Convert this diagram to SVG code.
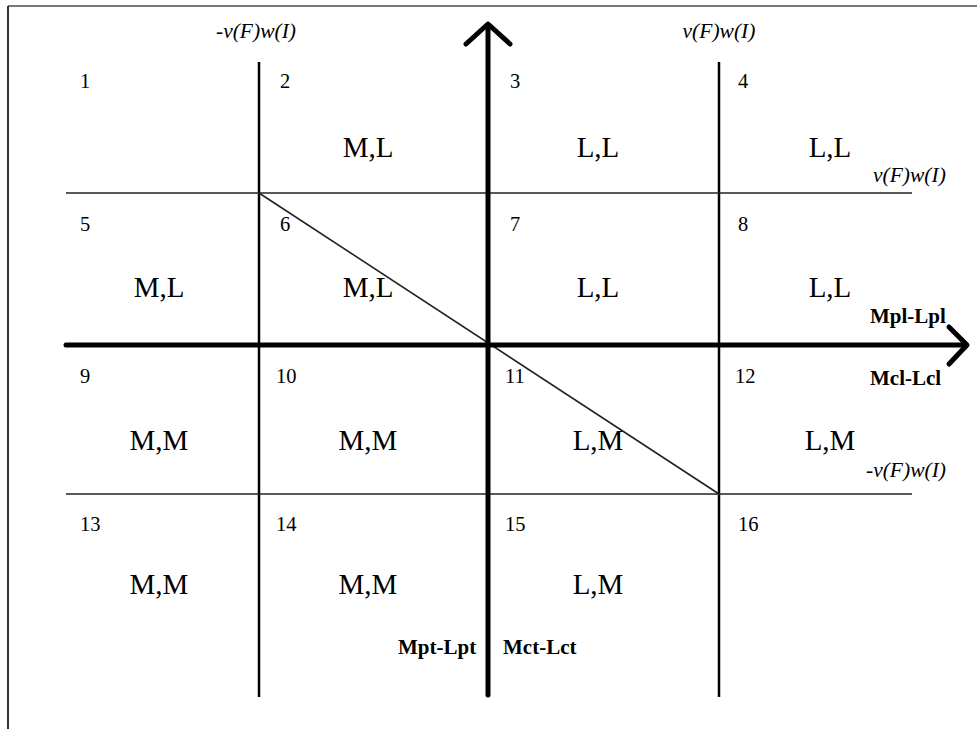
<svg xmlns="http://www.w3.org/2000/svg" width="977" height="729" viewBox="0 0 977 729">
<style>
.num{font-family:"Liberation Serif",serif;font-size:20.5px;fill:#000}
.lab{font-family:"Liberation Serif",serif;font-size:29px;fill:#000;text-anchor:middle}
.it{font-family:"Liberation Serif",serif;font-size:21.5px;font-style:italic;fill:#000}
.bd{font-family:"Liberation Serif",serif;font-size:21px;font-weight:bold;fill:#000}
.thin{stroke:#000;stroke-width:2.5;fill:none}
.hair{stroke:#222;stroke-width:1.6;fill:none}
.thick{stroke:#000;stroke-width:5;fill:none;stroke-linecap:round;stroke-linejoin:round}
</style>
<rect width="977" height="729" fill="#fff"/>
<g id="frame">
<line x1="8" y1="6" x2="977" y2="6" stroke="#777" stroke-width="2"/>
<line x1="8" y1="6" x2="8" y2="729" stroke="#333" stroke-width="2"/>
</g>
<g id="connectors">
<line class="thin" x1="259" y1="62" x2="259" y2="697"/>
<line class="thin" x1="719" y1="62" x2="719" y2="697"/>
<line class="hair" x1="66" y1="193" x2="912" y2="193"/>
<line class="hair" x1="66" y1="494" x2="912" y2="494"/>
<line class="hair" x1="259" y1="193" x2="719" y2="494"/>
<line class="thick" x1="488" y1="25" x2="488" y2="695" stroke-linecap="butt"/>
<polyline class="thick" points="466,44 488,24 510,44"/>
<line class="thick" x1="66" y1="345" x2="966" y2="345" stroke-linecap="butt"/>
<polyline class="thick" points="949,327 967,345 949,364"/>
</g>
<g id="axis-labels">
<text class="it" x="256" y="38" text-anchor="middle">-v(F)w(I)</text>
<text class="it" x="719" y="38" text-anchor="middle">v(F)w(I)</text>
<text class="it" x="873" y="182">v(F)w(I)</text>
<text class="it" x="866" y="477">-v(F)w(I)</text>
<text class="bd" x="870" y="323">Mpl-Lpl</text>
<text class="bd" x="870" y="385">Mcl-Lcl</text>
<text class="bd" x="398" y="654">Mpt-Lpt</text>
<text class="bd" x="503" y="654">Mct-Lct</text>
</g>
<g id="cell1"><text class="num" x="80" y="88">1</text></g>
<g id="cell2"><text class="num" x="280" y="88">2</text><text class="lab" x="368" y="157">M,L</text></g>
<g id="cell3"><text class="num" x="510" y="88">3</text><text class="lab" x="598" y="157">L,L</text></g>
<g id="cell4"><text class="num" x="738" y="88">4</text><text class="lab" x="830" y="157">L,L</text></g>
<g id="cell5"><text class="num" x="80" y="231">5</text><text class="lab" x="159" y="297">M,L</text></g>
<g id="cell6"><text class="num" x="280" y="231">6</text><text class="lab" x="368" y="297">M,L</text></g>
<g id="cell7"><text class="num" x="510" y="231">7</text><text class="lab" x="598" y="297">L,L</text></g>
<g id="cell8"><text class="num" x="738" y="231">8</text><text class="lab" x="830" y="297">L,L</text></g>
<g id="cell9"><text class="num" x="80" y="383">9</text><text class="lab" x="159" y="450">M,M</text></g>
<g id="cell10"><text class="num" x="276" y="383">10</text><text class="lab" x="368" y="450">M,M</text></g>
<g id="cell11"><text class="num" x="505" y="383">11</text><text class="lab" x="598" y="450">L,M</text></g>
<g id="cell12"><text class="num" x="735" y="383">12</text><text class="lab" x="830" y="450">L,M</text></g>
<g id="cell13"><text class="num" x="80" y="531">13</text><text class="lab" x="159" y="594">M,M</text></g>
<g id="cell14"><text class="num" x="276" y="531">14</text><text class="lab" x="368" y="594">M,M</text></g>
<g id="cell15"><text class="num" x="505" y="531">15</text><text class="lab" x="598" y="594">L,M</text></g>
<g id="cell16"><text class="num" x="738" y="531">16</text></g>
</svg>
